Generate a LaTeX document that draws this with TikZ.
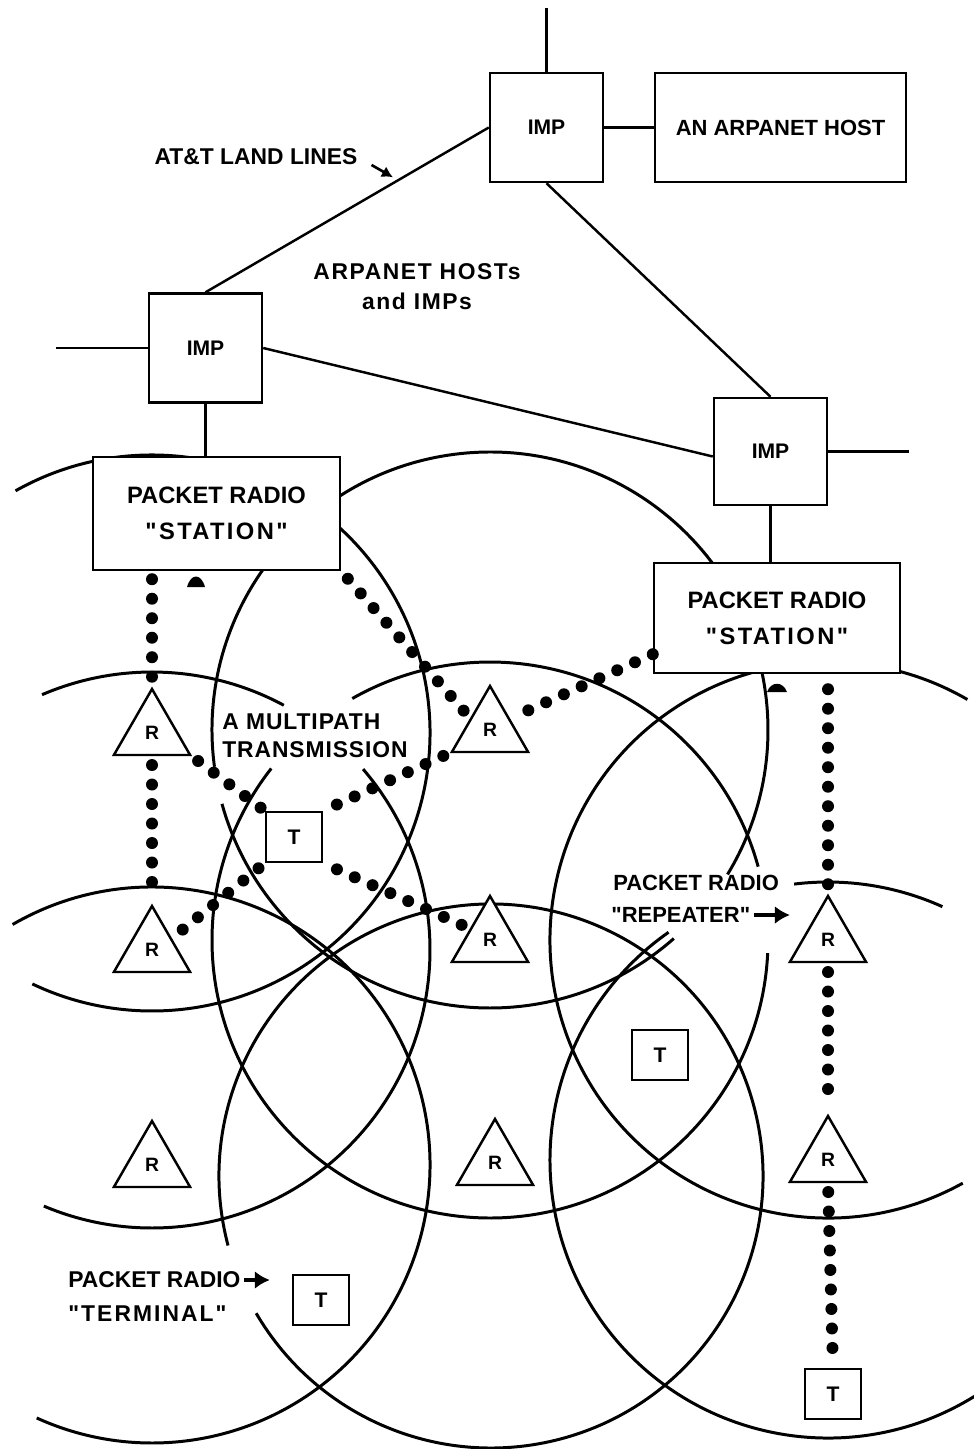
\documentclass[tikz,border=0pt]{standalone}
\usepackage{fontspec}
\setmainfont{Liberation Sans}[Ligatures=TeXOff]
\usetikzlibrary{arrows.meta, shapes.geometric, calc, backgrounds}
\newcommand{\straightquote}{\symbol{34}}

\begin{document}
\begin{tikzpicture}[x=0.2mm, y=-0.2mm,
    box/.style={draw, fill=white, line width=1.4pt, font=\bfseries\fontsize{12}{14}\selectfont},
    imp/.style={box, minimum width=22.6mm, minimum height=21.8mm},
    station/.style={box, minimum width=49.4mm, minimum height=22.6mm, align=center,
      font=\bfseries\fontsize{13.5}{20.5}\selectfont},
    rep/.style={draw, fill=white, line width=1.4pt, regular polygon, regular polygon sides=3,
      minimum size=17.6mm, inner sep=0pt, outer sep=0pt, font=\bfseries\fontsize{11}{13}\selectfont},
    term/.style={box, minimum width=11.2mm, minimum height=10mm, inner sep=0pt},
    link/.style={line width=1.4pt},
    cov/.style={line width=1.7pt},
    hops/.style={line width=2.4mm, line cap=round, dash pattern=on 0pt off 3.9mm},
    lbl/.style={inner sep=0pt, font=\bfseries\fontsize{13}{16}\selectfont},
    ptr/.style={line width=1.5pt, -{Latex[length=2.2mm, width=2.4mm]}},
    fatptr/.style={line width=2.2pt, -{Latex[length=3mm, width=3.6mm]}}]
  \useasboundingbox (0,0) rectangle (974,1449);

  % ARPANET part
  \node[imp] (imp0) at (546.5,127.5) {IMP};
  \node[box, minimum width=50.2mm, minimum height=21.8mm,
    font=\bfseries\fontsize{12.5}{14}\selectfont] (host) at (780.5,127.5) {AN ARPANET HOST};
  \node[imp] (imp1) at (205.5,348) {IMP};
  \node[imp, minimum height=21.4mm] (imp2) at (770.5,451.5) {IMP};
  \coordinate (up) at (546.5,8);
  \coordinate (west) at (56,348);
  \coordinate (east) at (909,451.5);
  \draw[link] (imp0.north) -- (up);
  \draw[link, line width=2.2pt] (imp0.east) -- (host.west);
  \draw[link] (imp0.west) -- (imp1.north);
  \draw[link] (imp0.south) -- (imp2.north);
  \draw[link] (imp1.east) -- ($(imp2.west)+(0,5)$);
  \draw[link] (west) -- (imp1.west);
  \draw[link] (imp2.east) -- (east);

  \node[lbl] (att) at (256,157) {AT\&T LAND LINES};
  \draw[ptr, shorten <=3.2mm, shorten >=1.2mm] (att.east) -- ($(imp0.west)!0.32!(imp1.north)$);
  \node[lbl, align=center, font=\bfseries\fontsize{13}{17}\selectfont\addfontfeatures{LetterSpace=7}]
    (arpa) at (417,287) {ARPANET HOSTs\\and IMPs};

  % packet radio stations
  \node[station] (st1) at (216.5,513.5)
    {PACKET RADIO\\{\addfontfeatures{LetterSpace=10}\straightquote STATION\straightquote}};
  \node[station, minimum width=49.2mm, minimum height=22mm] (st2) at (777,618)
    {PACKET RADIO\\{\addfontfeatures{LetterSpace=10}\straightquote STATION\straightquote}};
  \draw[link] (imp1.south) -- (imp1.south |- st1.north);
  \draw[link] (imp2.south) -- (imp2.south |- st2.north);
  \fill (187,587) .. controls (191,573) and (201,573) .. (205,587) -- cycle;
  \fill (767,692) .. controls (771,681) and (783,681) .. (787,692) -- cycle;

  % repeaters and terminals
  \node[rep] (r1) at (152,733) {R};
  \node[rep] (r2) at (152,950) {R};
  \node[rep] (r3) at (490,730) {R};
  \node[rep] (r4) at (490,940) {R};
  \node[rep] (r5) at (828,940) {R};
  \node[rep] (r6) at (152,1165) {R};
  \node[rep] (r7) at (495,1163) {R};
  \node[rep] (r8) at (828,1160) {R};
  \node[term] (t1) at (294,837) {T};
  \node[term] (t2) at (660,1055) {T};
  \node[term] (t3) at (321,1300) {T};
  \node[term] (t4) at (833,1394) {T};

  % coverage of each repeater
  \begin{pgfonlayer}{background}
    \foreach \cx/\cy/\r/\a/\b in {152/733/278/-119.4/115.5,
        152/950/278/-113.3/-61.7, 152/950/278/-40.6/112.9,
        490/730/278/48.6/164.6, 490/730/278/172.4/391.3,
        490/940/278/-119.7/-15.3, 490/940/278/2.7/218.1,
        828/940/278/61/300.1, 152/1165/278/-120.1/114.5,
        491/1176/272/165.2/509.7,
        828/1160/278/-97/-65.7, 828/1160/278/58/235}
      \draw[cov] (\cx,\cy) ++(\a:\r) arc[start angle=\a, end angle=\b, radius=\r];
  \end{pgfonlayer}

  % routes
  \draw[hops, shorten <=1.6mm, shorten >=2mm] (r1.corner 1 |- st1.south) -- (r1.corner 1);
  \draw[hops, shorten <=2mm, shorten >=2mm] (r1.side 2) -- (r2.corner 1);
  \draw[hops, shorten <=2mm, shorten >=1mm] (st1.south east) -- (r3.side 1);
  \draw[hops, shorten >=2mm] ($(st2.south west)+(0,-20)$) -- (r3.side 3);
  \draw[hops, shorten <=3mm, shorten >=2mm] (st2.south -| r5) -- (r5.corner 1);
  \draw[hops, shorten <=2mm, shorten >=1.5mm] (r5.side 2) -- (r8.corner 1);
  \draw[hops, shorten <=2mm, shorten >=1mm] (r8.side 2) -- (t4.north);
  % multipath
  \draw[hops, shorten <=2mm, shorten >=1mm] (r1.corner 3) -- (t1.north west);
  \draw[hops, shorten <=3mm, shorten >=1mm] (t1.north east) -- (r3.corner 2);
  \draw[hops, shorten <=3mm, shorten >=1mm] (t1.south east) -- (r4.side 1);
  \draw[hops, shorten <=3mm, shorten >=1mm] (r2.side 3) -- (t1.south west);

  % labels
  \node[lbl, align=left, anchor=west, font=\bfseries\fontsize{13}{16}\selectfont\addfontfeatures{LetterSpace=4}]
    (multi) at (222,736) {A MULTIPATH\\TRANSMISSION};
  \node[lbl, anchor=west, font=\bfseries\fontsize{12.5}{15}\selectfont] (rep1) at (613,883) {PACKET RADIO};
  \node[lbl, anchor=west, font=\bfseries\fontsize{12.5}{15}\selectfont] (rep2) at (611,915)
    {\straightquote REPEATER\straightquote};
  \draw[fatptr, shorten <=0.6mm] (rep2.east) -- (rep2.east -| r5.corner 2);
  \node[lbl, anchor=west] (term1) at (68,1280) {PACKET RADIO};
  \node[lbl, anchor=west, font=\bfseries\fontsize{13}{16}\selectfont\addfontfeatures{LetterSpace=9}]
    (term2) at (68,1314) {\straightquote TERMINAL\straightquote};
  \draw[fatptr, shorten <=0.6mm, shorten >=4.4mm] (term1.east) -- (term1.east -| t3.west);
\end{tikzpicture}
\end{document}
